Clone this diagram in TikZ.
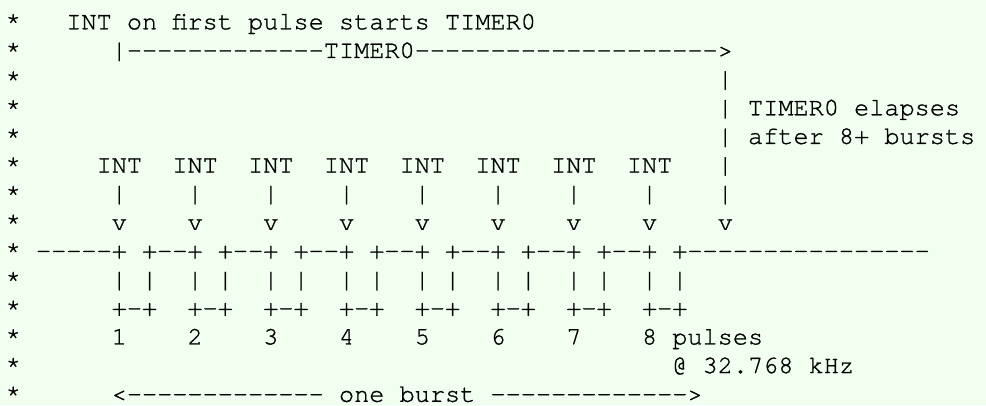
\documentclass[tikz,border=0pt]{standalone}
\usepackage{fontspec}
\setmonofont{texgyrecursor-regular.otf}[FakeBold=1]
\definecolor{bgc}{RGB}{240,255,240}
\definecolor{txc}{RGB}{0,0,0}
\newcommand\sps[1]{\kern\dimexpr 0.6em*#1\relax}
\tikzset{
  ln/.style={anchor=base west, inner sep=0pt, outer sep=0pt,
    font=\ttfamily\fontsize{25.25}{28.65}\selectfont, text=txc}
}
\begin{document}
\begin{tikzpicture}[x=1pt,y=1pt]
\fill[bgc] (0,0) rectangle (986,-405);
\useasboundingbox (0,0) rectangle (986,-405);
\def\xo{5.7}
\def\bl#1{-(29.3+28.65*(#1-1))}
\node[ln] (l1)  at (\xo,{\bl{1}})  {*\sps{3}INT on first pulse starts TIMER0};
\node[ln] (l2)  at (\xo,{\bl{2}})  {*\sps{6}|-------------TIMER0-------------------->};
\node[ln] (l3)  at (\xo,{\bl{3}})  {*\sps{46}|};
\node[ln] (l4)  at (\xo,{\bl{4}})  {*\sps{46}|\sps{1}TIMER0\sps{1}elapses};
\node[ln] (l5)  at (\xo,{\bl{5}})  {*\sps{46}|\sps{1}after\sps{1}8+\sps{1}bursts};
\node[ln] (l6)  at (\xo,{\bl{6}})  {*\sps{5}INT\sps{2}INT\sps{2}INT\sps{2}INT\sps{2}INT\sps{2}INT\sps{2}INT\sps{2}INT\sps{3}|};
\node[ln] (l7)  at (\xo,{\bl{7}})  {*\sps{6}|\sps{4}|\sps{4}|\sps{4}|\sps{4}|\sps{4}|\sps{4}|\sps{4}|\sps{4}|};
\node[ln] (l8)  at (\xo,{\bl{8}})  {*\sps{6}v\sps{4}v\sps{4}v\sps{4}v\sps{4}v\sps{4}v\sps{4}v\sps{4}v\sps{4}v};
\node[ln] (l9)  at (\xo,{\bl{9}})  {*\sps{1}-----+\sps{1}+--+\sps{1}+--+\sps{1}+--+\sps{1}+--+\sps{1}+--+\sps{1}+--+\sps{1}+--+\sps{1}+----------------};
\node[ln] (l10) at (\xo,{\bl{10}}) {*\sps{6}|\sps{1}|\sps{2}|\sps{1}|\sps{2}|\sps{1}|\sps{2}|\sps{1}|\sps{2}|\sps{1}|\sps{2}|\sps{1}|\sps{2}|\sps{1}|\sps{2}|\sps{1}|};
\node[ln] (l11) at (\xo,{\bl{11}}) {*\sps{6}+-+\sps{2}+-+\sps{2}+-+\sps{2}+-+\sps{2}+-+\sps{2}+-+\sps{2}+-+\sps{2}+-+};
\node[ln] (l12) at (\xo,{\bl{12}}) {*\sps{6}1\sps{4}2\sps{4}3\sps{4}4\sps{4}5\sps{4}6\sps{4}7\sps{4}8\sps{1}pulses};
\node[ln] (l13) at (\xo,{\bl{13}}) {*\sps{43}@\sps{1}32.768\sps{1}kHz};
\node[ln] (l14) at (\xo,{\bl{14}}) {*\sps{6}<-------------\sps{1}one\sps{1}burst\sps{1}------------->};
\end{tikzpicture}
\end{document}
